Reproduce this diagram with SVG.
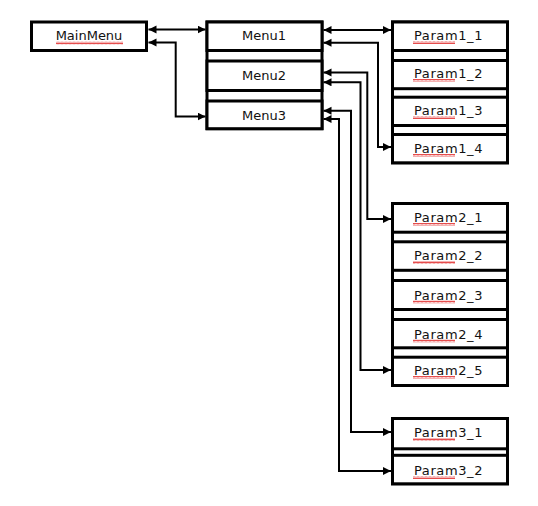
<svg xmlns="http://www.w3.org/2000/svg" width="538" height="506" viewBox="0 0 538 506">
<style>
.box{fill:#fff;stroke:#000;stroke-width:3}
.frame{fill:none;stroke:#000;stroke-width:3}
.lbl{font-family:"DejaVu Sans",Verdana,sans-serif;font-size:13px;fill:#111;text-anchor:middle}
.pl{letter-spacing:0.6px}
.conn{fill:none;stroke:#000;stroke-width:2;marker-start:url(#ah);marker-end:url(#ah)}
.sq{fill:url(#wave)}
</style>
<defs>
<marker id="ah" markerUnits="userSpaceOnUse" markerWidth="9" markerHeight="9" refX="8" refY="4" orient="auto-start-reverse" viewBox="0 0 9 9">
<path d="M0,0 L8,4 L0,8 z" fill="#000"/>
</marker>
<pattern id="wave" patternUnits="userSpaceOnUse" width="4" height="3">
<path d="M0,2.5 L1,0.5 L2,2.5 L3,0.5 L4,2.5" fill="none" stroke="#e02020" stroke-width="0.8"/>
</pattern>
</defs>
<rect width="538" height="506" fill="#fff"/>

<g id="MainMenu">
<rect class="box" x="31.5" y="22" width="115" height="28.5"/>
<text class="lbl" x="89" y="40">MainMenu</text>
<rect class="sq" x="56" y="41.5" width="67" height="3"/>
</g>

<g id="menus-frame"><rect class="frame" x="207" y="22" width="115" height="106.7"/></g>
<g id="Menu1">
<rect class="box" x="207" y="22" width="115" height="28.5"/>
<text class="lbl" x="264" y="40">Menu1</text>
</g>
<g id="Menu2">
<rect class="box" x="207" y="61" width="115" height="29.5"/>
<text class="lbl" x="264" y="80">Menu2</text>
</g>
<g id="Menu3">
<rect class="box" x="207" y="101" width="115" height="27.7"/>
<text class="lbl" x="264" y="120">Menu3</text>
</g>

<g id="param1-frame"><rect class="frame" x="392.5" y="22" width="115" height="140.8"/></g>
<g id="Param1_1">
<rect class="box" x="392.5" y="22" width="115" height="28.5"/>
<text class="lbl pl" x="448.5" y="40">Param1_1</text>
<rect class="sq" x="413" y="41" width="42" height="3"/>
</g>
<g id="Param1_2">
<rect class="box" x="392.5" y="60.5" width="115" height="28.2"/>
<text class="lbl pl" x="448.5" y="78">Param1_2</text>
<rect class="sq" x="413" y="79" width="42" height="3"/>
</g>
<g id="Param1_3">
<rect class="box" x="392.5" y="97.2" width="115" height="28.3"/>
<text class="lbl pl" x="448.5" y="115">Param1_3</text>
<rect class="sq" x="413" y="116" width="42" height="3"/>
</g>
<g id="Param1_4">
<rect class="box" x="392.5" y="134.5" width="115" height="28.3"/>
<text class="lbl pl" x="448.5" y="153">Param1_4</text>
<rect class="sq" x="413" y="154" width="42" height="3"/>
</g>

<g id="param2-frame"><rect class="frame" x="392.5" y="203.5" width="115" height="182"/></g>
<g id="Param2_1">
<rect class="box" x="392.5" y="203.5" width="115" height="28.7"/>
<text class="lbl pl" x="448.5" y="222">Param2_1</text>
<rect class="sq" x="413" y="223" width="42" height="3"/>
</g>
<g id="Param2_2">
<rect class="box" x="392.5" y="241.8" width="115" height="28.5"/>
<text class="lbl pl" x="448.5" y="260">Param2_2</text>
<rect class="sq" x="413" y="261" width="42" height="3"/>
</g>
<g id="Param2_3">
<rect class="box" x="392.5" y="280.5" width="115" height="29"/>
<text class="lbl pl" x="448.5" y="299.5">Param2_3</text>
<rect class="sq" x="413" y="300.5" width="42" height="3"/>
</g>
<g id="Param2_4">
<rect class="box" x="392.5" y="319.5" width="115" height="28.3"/>
<text class="lbl pl" x="448.5" y="338.5">Param2_4</text>
<rect class="sq" x="413" y="339.5" width="42" height="3"/>
</g>
<g id="Param2_5">
<rect class="box" x="392.5" y="357.2" width="115" height="28.3"/>
<text class="lbl pl" x="448.5" y="375">Param2_5</text>
<rect class="sq" x="413" y="376" width="42" height="3"/>
</g>

<g id="param3-frame"><rect class="frame" x="392.5" y="418.5" width="115" height="65.3"/></g>
<g id="Param3_1">
<rect class="box" x="392.5" y="418.5" width="115" height="30.3"/>
<text class="lbl pl" x="448.5" y="437">Param3_1</text>
<rect class="sq" x="413" y="438" width="42" height="3"/>
</g>
<g id="Param3_2">
<rect class="box" x="392.5" y="455.3" width="115" height="28.5"/>
<text class="lbl pl" x="448.5" y="475">Param3_2</text>
<rect class="sq" x="413" y="476" width="42" height="3"/>
</g>

<g id="connectors">
<path class="conn" d="M148.5,29.5 H205.5"/>
<path class="conn" d="M148.5,42.5 H175.7 V116.5 H205.5"/>
<path class="conn" d="M323.5,30 H391"/>
<path class="conn" d="M323.5,42.7 H378 V147 H391"/>
<path class="conn" d="M323.5,72.5 H367.3 V219 H391"/>
<path class="conn" d="M323.5,82.3 H360.5 V370 H391"/>
<path class="conn" d="M323.5,110.7 H351 V432 H391"/>
<path class="conn" d="M323.5,119 H339 V471 H391"/>
</g>
</svg>
